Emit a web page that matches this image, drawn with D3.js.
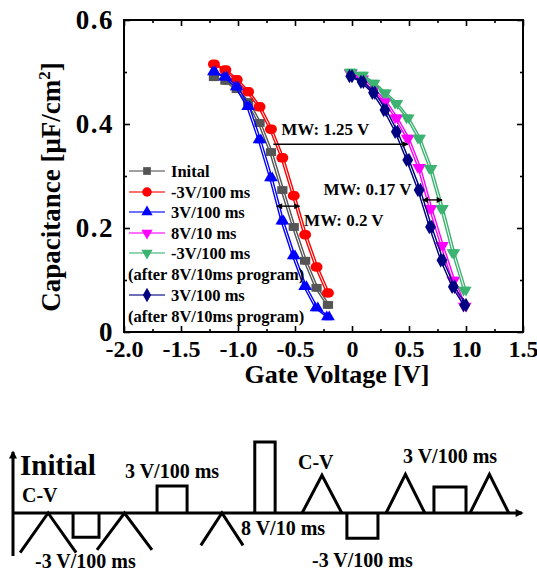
<!DOCTYPE html>
<html>
<head>
<meta charset="utf-8">
<script src="https://cdn.jsdelivr.net/npm/d3@7"></script>
<style>
  body { margin: 0; background: #fff; }
  svg, svg text { font-family: "Liberation Serif", "Times New Roman", serif; font-weight: bold; }
</style>
</head>
<body>
<svg id="chart"></svg>
<script>
// gate voltage sweeps (V)
const voltsNeg = [-1.2, -1.1, -1.0, -0.9, -0.8, -0.7, -0.6, -0.5, -0.4, -0.3, -0.2];
const voltsPos = [0, 0.1, 0.2, 0.3, 0.4, 0.5, 0.6, 0.7, 0.8, 0.9, 1.0];

// capacitance (uF/cm2)
const capInitial     = [0.490, 0.483, 0.467, 0.442, 0.402, 0.346, 0.273, 0.202, 0.137, 0.085, 0.052];
const capErase3      = [0.515, 0.504, 0.485, 0.462, 0.433, 0.390, 0.335, 0.262, 0.187, 0.125, 0.075];
const capProg3       = [0.500, 0.490, 0.471, 0.433, 0.369, 0.296, 0.213, 0.146, 0.087, 0.046, 0.029];
const capProg8       = [0.498, 0.487, 0.467, 0.444, 0.412, 0.373, 0.317, 0.238, 0.167, 0.100, 0.050];
const capErase3After = [0.500, 0.494, 0.479, 0.460, 0.440, 0.412, 0.373, 0.315, 0.238, 0.153, 0.081];
const capProg3After  = [0.492, 0.481, 0.460, 0.427, 0.385, 0.331, 0.273, 0.202, 0.138, 0.087, 0.052];

const seriesNames = ["Inital", "-3V/100 ms", "3V/100 ms", "8V/10 ms", "-3V/100 ms", "3V/100 ms"];
const seriesNotes = ["", "", "", "", "(after 8V/10ms program)", "(after 8V/10ms program)"];

const xTicks = [-2, -1.5, -1, -0.5, 0, 0.5, 1, 1.5];
const xTickLabels = ["-2.0", "-1.5", "-1.0", "-0.5", "0", "0.5", "1.0", "1.5"];
const xMinor = [-1.75, -1.25, -0.75, -0.25, 0.25, 0.75, 1.25];
const yTicks = [0, 0.2, 0.4, 0.6];
const yTickLabels = ["0", "0.2", "0.4", "0.6"];
const yMinor = [0.1, 0.3, 0.5];

// memory window annotations (V, uF/cm2)
const mwLabels = ["MW: 1.25 V", "MW: 0.17 V", "MW: 0.2 V"];
const mwFrom   = [-0.69, 0.62, -0.66];
const mwTo     = [0.49, 0.79, -0.46];
const mwLevel  = [0.361, 0.254, 0.242];
const mwTextV  = [-0.62, -0.25, -0.42];
const mwTextC  = [0.378, 0.263, 0.204];
const mwBoth   = [false, true, true];

// pulse sequence of the bottom schematic: kind, start, end (time units), amplitude (V)
const pulseKind  = ["cvDown", "rect", "cvDown", "rect", "cvDown", "rect", "cvUp", "rect", "cvUp", "rect", "cvUp"];
const pulseStart = [1.4, 11.8, 16.5, 28.3, 36.9, 47.5, 56.8, 65.6, 73.3, 82.7, 89.8];
const pulseEnd   = [12.4, 16.9, 27.3, 34.2, 45.2, 51.5, 64.6, 71.7, 80.9, 89.0, 97.4];
const pulseAmp   = [-4.4, -2.7, -4.1, 3, -3.6, 7.9, 4.2, -2.8, 4.3, 2.9, 4.3];

const W = 537, H = 575;
const svg = d3.select("#chart").attr("width", W).attr("height", H);

const defs = svg.append("defs");
defs.append("marker")
  .attr("id", "arrow")
  .attr("viewBox", "0 0 10 10")
  .attr("refX", 9).attr("refY", 5)
  .attr("markerWidth", 7).attr("markerHeight", 6)
  .attr("markerUnits", "userSpaceOnUse")
  .attr("orient", "auto-start-reverse")
  .append("path").attr("d", "M0,0L10,5L0,10z").attr("fill", "#000");
defs.append("marker")
  .attr("id", "bigArrow")
  .attr("viewBox", "0 0 10 10")
  .attr("refX", 8).attr("refY", 5)
  .attr("markerWidth", 9).attr("markerHeight", 8)
  .attr("markerUnits", "userSpaceOnUse")
  .attr("orient", "auto")
  .append("path").attr("d", "M0,0L10,5L0,10z").attr("fill", "#000");

// ---------------- C-V chart ----------------
const x = d3.scaleLinear().domain([-2, 1.5]).range([124, 523]);
const y = d3.scaleLinear().domain([0, 0.6]).range([332, 20]);

const series = [
  { name: seriesNames[0], v: voltsNeg, c: capInitial,     color: "#555555", sym: d3.symbolSquare,   size: 60, rot: 0 },
  { name: seriesNames[1], v: voltsNeg, c: capErase3,      color: "#ff0000", sym: d3.symbolCircle,   size: 70, rot: 0 },
  { name: seriesNames[2], v: voltsNeg, c: capProg3,       color: "#0000ff", sym: d3.symbolTriangle, size: 55, rot: 0 },
  { name: seriesNames[3], v: voltsPos, c: capProg8,       color: "#ff00ff", sym: d3.symbolTriangle, size: 55, rot: 180 },
  { name: seriesNames[4], v: voltsPos, c: capErase3After, color: "#3cb371", sym: d3.symbolTriangle, size: 55, rot: 180 },
  { name: seriesNames[5], v: voltsPos, c: capProg3After,  color: "#000080", sym: d3.symbolDiamond,  size: 60, rot: 0 },
];

const line = d3.line().x((d) => x(d[0])).y((d) => y(d[1]));

// axes: inward ticks on all four sides
function styleAxis(g) {
  g.attr("font-family", null).attr("font-size", null);
  g.select(".domain").remove();
  g.selectAll(".tick line").attr("stroke", "#000").attr("stroke-width", 1.6);
  g.selectAll(".tick text").attr("fill", "#000").style("font-size", "24px").style("font-weight", "bold");
}
svg.append("g").attr("transform", "translate(0,332)")
  .call(d3.axisBottom(x).tickValues(xTicks).tickSize(-6).tickPadding(8).tickFormat((d, i) => xTickLabels[i]))
  .call(styleAxis);
svg.append("g").attr("transform", "translate(0,332)")
  .call(d3.axisBottom(x).tickValues(xMinor).tickSize(-3).tickFormat(""))
  .call(styleAxis);
svg.append("g").attr("transform", "translate(0,20)")
  .call(d3.axisTop(x).tickValues(xTicks).tickSize(-6).tickFormat(""))
  .call(styleAxis);
svg.append("g").attr("transform", "translate(0,20)")
  .call(d3.axisTop(x).tickValues(xMinor).tickSize(-3).tickFormat(""))
  .call(styleAxis);
svg.append("g").attr("transform", "translate(124,0)")
  .call(d3.axisLeft(y).tickValues(yTicks).tickSize(-6).tickPadding(10).tickFormat((d, i) => yTickLabels[i]))
  .call(styleAxis)
  .call((g) => g.selectAll(".tick text").style("font-size", "27px").style("letter-spacing", "1.5px"));
svg.append("g").attr("transform", "translate(124,0)")
  .call(d3.axisLeft(y).tickValues(yMinor).tickSize(-3).tickFormat(""))
  .call(styleAxis);
svg.append("g").attr("transform", "translate(523,0)")
  .call(d3.axisRight(y).tickValues(yTicks).tickSize(-6).tickFormat(""))
  .call(styleAxis);
svg.append("g").attr("transform", "translate(523,0)")
  .call(d3.axisRight(y).tickValues(yMinor).tickSize(-3).tickFormat(""))
  .call(styleAxis);

svg.append("rect")
  .attr("x", x(-2)).attr("y", y(0.6))
  .attr("width", x(1.5) - x(-2)).attr("height", y(0) - y(0.6))
  .attr("fill", "none").attr("stroke", "#000").attr("stroke-width", 2);

// axis titles
svg.append("text")
  .attr("x", 337).attr("y", 383)
  .attr("text-anchor", "middle").style("font-size", "26px")
  .text("Gate Voltage [V]");
const yTitle = svg.append("text")
  .attr("transform", "translate(60,187) rotate(-90)")
  .attr("text-anchor", "middle").style("font-size", "27px");
yTitle.append("tspan").text("Capacitance [\u03bcF/cm");
yTitle.append("tspan").attr("dy", -10).style("font-size", "17px").text("2");
yTitle.append("tspan").attr("dy", 10).text("]");

// curves: each sweep drawn twice (forward/reverse sweep look)
const plot = svg.append("g");
series.forEach((s) => {
  const pts = s.v.map((v, i) => [v, s.c[i]]);
  [-2.5, 0].forEach((off) => {
    const g = plot.append("g").attr("transform", `translate(${off},0)`);
    g.append("path").datum(pts)
      .attr("d", line).attr("fill", "none")
      .attr("stroke", s.color).attr("stroke-width", 1.4);
    g.selectAll("path.pt").data(pts).join("path")
      .attr("class", "pt")
      .attr("d", d3.symbol().type(s.sym).size(s.size))
      .attr("transform", (d) => `translate(${x(d[0])},${y(d[1])}) rotate(${s.rot})`)
      .attr("fill", s.color);
  });
});

// memory window arrows
mwLabels.forEach((lab, i) => {
  svg.append("line")
    .attr("x1", x(mwFrom[i])).attr("x2", x(mwTo[i]))
    .attr("y1", y(mwLevel[i])).attr("y2", y(mwLevel[i]))
    .attr("stroke", "#000").attr("stroke-width", 1.4)
    .attr("marker-end", "url(#arrow)")
    .attr("marker-start", mwBoth[i] ? "url(#arrow)" : null);
  svg.append("text")
    .attr("x", x(mwTextV[i])).attr("y", y(mwTextC[i]))
    .style("font-size", "17px")
    .text(lab);
});

// legend
const legendY = [171, 192, 212, 233, 253, 295];
const legend = svg.append("g");
series.forEach((s, i) => {
  const ly = legendY[i];
  legend.append("line")
    .attr("x1", 129).attr("x2", 165).attr("y1", ly).attr("y2", ly)
    .attr("stroke", s.color).attr("stroke-width", 1.4).attr("stroke-opacity", 0.75);
  legend.append("path")
    .attr("d", d3.symbol().type(s.sym).size(s.size))
    .attr("transform", `translate(147,${ly}) rotate(${s.rot})`)
    .attr("fill", s.color);
  legend.append("text")
    .attr("x", 171).attr("y", ly).attr("dy", "0.35em")
    .style("font-size", "16.5px").text(s.name);
  if (seriesNotes[i]) {
    legend.append("text")
      .attr("x", 128).attr("y", ly + 21).attr("dy", "0.35em")
      .style("font-size", "16.5px").text(seriesNotes[i]);
  }
});

// ---------------- pulse schematic ----------------
const t = d3.scaleLinear().domain([0, 100]).range([13, 522]);
const amp = d3.scaleLinear().domain([0, 1]).range([513, 504]);
const base = amp(0);

const sch = svg.append("g")
  .attr("fill", "none").attr("stroke", "#000").attr("stroke-width", 3)
  .attr("stroke-linejoin", "miter");

sch.append("line").attr("x1", t(0)).attr("x2", t(0)).attr("y1", 556).attr("y2", 452)
  .attr("marker-end", "url(#bigArrow)");
sch.append("line").attr("x1", t(0)).attr("x2", t(100)).attr("y1", base).attr("y2", base)
  .attr("marker-end", "url(#bigArrow)");

pulseKind.forEach((k, i) => {
  const x0 = t(pulseStart[i]), x1 = t(pulseEnd[i]);
  const xm = (x0 + x1) / 2, ya = amp(pulseAmp[i]);
  let d;
  if (k === "rect") {
    d = `M${x0},${base}L${x0},${ya}L${x1},${ya}L${x1},${base}`;
  } else if (k === "cvUp") {
    d = `M${x0},${base}L${xm},${ya}L${x1},${base}`;
  } else {
    d = `M${x0},${ya}L${xm},${base}L${x1},${ya}`;
  }
  sch.append("path").attr("d", d);
});

const schText = [
  { s: "Initial", x: 20, y: 475, size: 29 },
  { s: "C-V", x: 22, y: 502, size: 20 },
  { s: "-3 V/100 ms", x: 35, y: 568, size: 20 },
  { s: "3 V/100 ms", x: 125, y: 478, size: 20 },
  { s: "8 V/10 ms", x: 241, y: 535, size: 20 },
  { s: "C-V", x: 298, y: 469, size: 20 },
  { s: "-3 V/100 ms", x: 312, y: 567, size: 20 },
  { s: "3 V/100 ms", x: 403, y: 463, size: 20 },
];
svg.append("g").selectAll("text").data(schText).join("text")
  .attr("x", (d) => d.x).attr("y", (d) => d.y)
  .style("font-size", (d) => d.size + "px")
  .text((d) => d.s);
</script>
</body>
</html>
